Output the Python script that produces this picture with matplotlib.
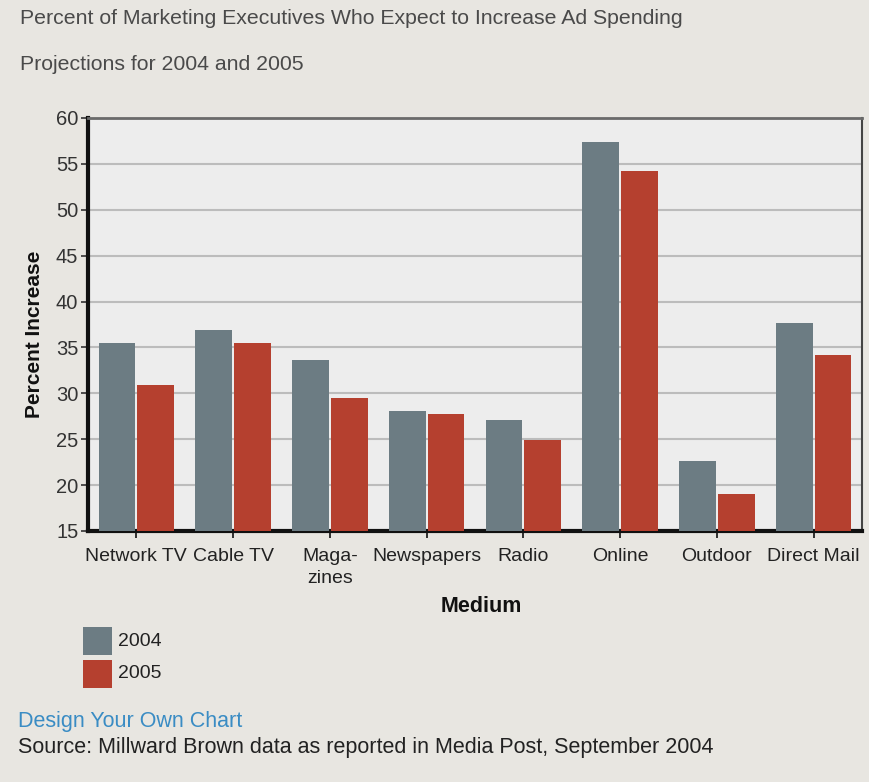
import numpy as np
import matplotlib
matplotlib.use("Agg")
import matplotlib.pyplot as plt
from matplotlib.patches import Rectangle

# Survey values (percent of executives expecting to raise spending)
media = ["Network TV", "Cable TV", "Maga-\nzines", "Newspapers", "Radio",
         "Online", "Outdoor", "Direct Mail"]
years = ["2004", "2005"]
pct_2004 = [35.5, 36.9, 33.6, 28.1, 27.1, 57.4, 22.6, 37.7]
pct_2005 = [30.9, 35.5, 29.5, 27.7, 24.9, 54.2, 19.0, 34.2]
y_ticks = [15, 20, 25, 30, 35, 40, 45, 50, 55, 60]

page_bg = "#e8e6e1"
plot_bg = "#ededed"
c_2004 = "#6c7c83"
c_2005 = "#b5402f"

plt.rcParams["font.family"] = ["Liberation Sans", "DejaVu Sans"]

W, H = 870, 782
fig = plt.figure(figsize=(W / 100, H / 100), dpi=100, facecolor=page_bg)


def fx(px):
    return px / W


def fy(py):
    return 1 - py / H


ax = fig.add_axes([fx(88), fy(531), fx(862) - fx(88), fy(118) - fy(531)])
ax.set_facecolor(plot_bg)

x = np.arange(len(media))
w = 0.38
ax.bar(x - 0.2, pct_2004, width=w, color=c_2004, zorder=3)
ax.bar(x + 0.2, pct_2005, width=w, color=c_2005, zorder=3)

ax.set_xlim(-0.5, len(media) - 0.5)
ax.set_ylim(15, 60)
ax.set_yticks(y_ticks)
ax.yaxis.grid(True, color="#bcbcbc", linewidth=1.5, zorder=1)
ax.set_axisbelow(True)

ax.set_xticks(x)
ax.set_xticklabels(media, fontsize=14, color="#222222", linespacing=1.4)
ax.tick_params(axis="x", length=5, width=1.2, color="#111111", pad=7)
ax.tick_params(axis="y", length=5, width=1.2, color="#333333", pad=2,
               labelsize=14.5, labelcolor="#333333")

for side in ["left", "bottom"]:
    ax.spines[side].set_linewidth(3)
    ax.spines[side].set_color("#111111")
ax.spines["top"].set_linewidth(2)
ax.spines["top"].set_color("#6a6a6a")
ax.spines["right"].set_linewidth(1.5)
ax.spines["right"].set_color("#444444")

# Axis titles
fig.text(fx(35), fy(334), "Percent Increase", fontsize=15, fontweight="bold",
         color="#111111", rotation=90, va="center", ha="center")
fig.text(fx(481), fy(606), "Medium", fontsize=15.5, fontweight="bold",
         color="#111111", va="center", ha="center")

# Header lines
fig.text(fx(20), fy(19), "Percent of Marketing Executives Who Expect to Increase Ad Spending",
         fontsize=15.3, color="#4a4a4a", va="center", ha="left")
fig.text(fx(20), fy(64), "Projections for 2004 and 2005",
         fontsize=15.3, color="#4a4a4a", va="center", ha="left")

# Legend swatches
for i, (label, col) in enumerate(zip(years, [c_2004, c_2005])):
    top = 627 + i * 33
    fig.patches.append(Rectangle((fx(83), fy(top + 28)), fx(29), fy(top) - fy(top + 28),
                                 transform=fig.transFigure, facecolor=col,
                                 edgecolor="none"))
    fig.text(fx(118), fy(top + 14), label, fontsize=14, color="#222222",
             va="center", ha="left")

# Footer
fig.text(fx(18), fy(722), "Design Your Own Chart", fontsize=15.5,
         color="#3a8cc4", va="center", ha="left")
fig.text(fx(18), fy(748), "Source: Millward Brown data as reported in Media Post, September 2004",
         fontsize=15.5, color="#222222", va="center", ha="left")

fig.savefig("out.png", dpi=100, facecolor=page_bg)
